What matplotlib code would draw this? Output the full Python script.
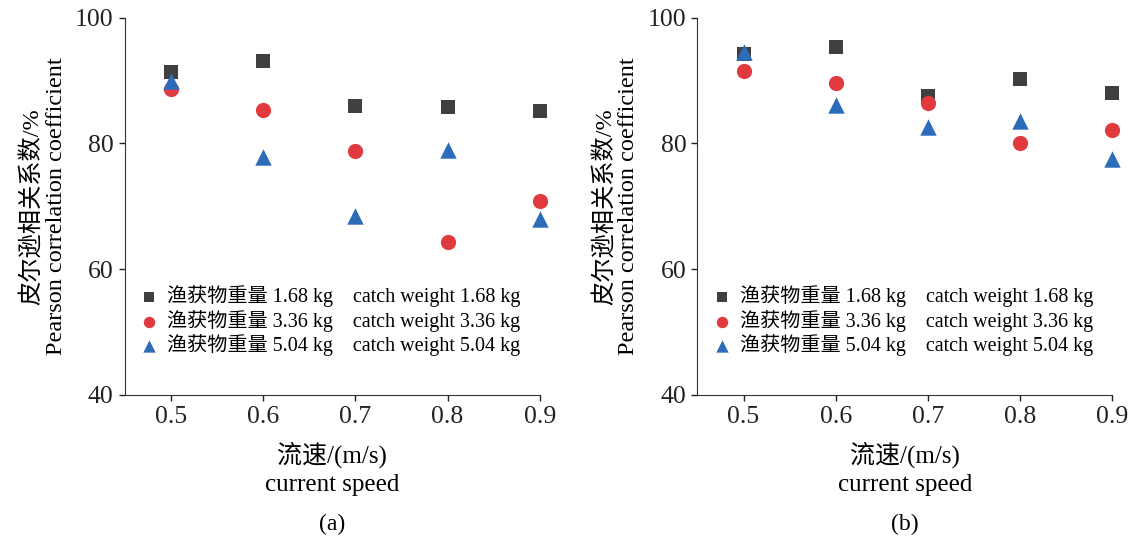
import matplotlib.pyplot as plt

plt.rcParams['font.family'] = ['Liberation Serif', 'Noto Sans CJK SC']
plt.rcParams['axes.unicode_minus'] = False

speed = [0.5, 0.6, 0.7, 0.8, 0.9]
weights = ['1.68', '3.36', '5.04']

# (a)
a_w168 = [91.4, 93.2, 85.9, 85.8, 85.1]
a_w336 = [88.7, 85.3, 78.8, 64.3, 70.8]
a_w504 = [90.0, 77.9, 68.4, 79.0, 67.9]

# (b)
b_w168 = [94.2, 95.3, 87.5, 90.2, 88.1]
b_w336 = [91.6, 89.6, 86.4, 80.0, 82.2]
b_w504 = [94.5, 86.1, 82.6, 83.5, 77.6]

markers = ['s', 'o', '^']
colors = ['#404040', '#e0393e', '#2c6cb8']
sizes = [90, 120, 140]

fig = plt.figure(figsize=(11.34, 5.4), dpi=100)
ax1 = fig.add_axes([0.110, 0.269, 0.366, 0.698])
ax2 = fig.add_axes([0.615, 0.269, 0.366, 0.698])

panels = [(ax1, [a_w168, a_w336, a_w504], '(a)'),
          (ax2, [b_w168, b_w336, b_w504], '(b)')]

for ax, series, tag in panels:
    for vals, w, m, c, s in zip(series, weights, markers, colors, sizes):
        ax.scatter(speed, vals, marker=m, color=c, s=s, linewidths=0, zorder=3,
                   clip_on=False,
                   label=f'渔获物重量 {w} kg    catch weight {w} kg')
    ax.set_xlim(0.45, 0.9)
    ax.set_ylim(40, 100)
    ax.set_xticks(speed)
    ax.set_yticks([40, 60, 80, 100])
    ax.spines['top'].set_visible(False)
    ax.spines['right'].set_visible(False)
    ax.spines['left'].set_color('#333333')
    ax.spines['bottom'].set_color('#333333')
    ax.tick_params(direction='out', length=4, width=1, labelsize=18.5, colors='#222222', pad=4)
    ax.set_ylabel('皮尔逊相关系数/%\nPearson correlation coefficient', fontsize=17.5,
                  linespacing=1.1, labelpad=6)
    ax.set_xlabel('流速/(m/s)\ncurrent speed', fontsize=18, linespacing=1.35, labelpad=10)
    ax.text(0.5, -0.345, tag, transform=ax.transAxes, ha='center', va='center', fontsize=17)
    ax.legend(loc='lower left', bbox_to_anchor=(0.0, 0.065), frameon=False, fontsize=14.5,
              handlelength=1.0, handletextpad=0.4, labelspacing=0.12, markerscale=0.75,
              borderaxespad=0.3)

plt.savefig('out.png', dpi=100)
